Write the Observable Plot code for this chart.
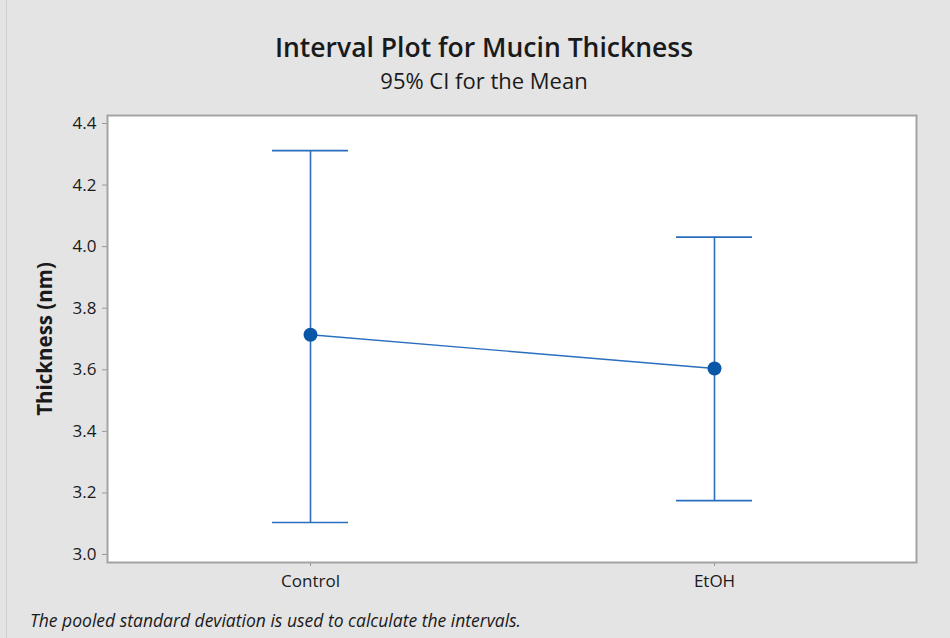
<!DOCTYPE html>
<html>
<head>
<meta charset="utf-8">
<script src="https://cdn.jsdelivr.net/npm/d3@7"></script>
<script src="https://cdn.jsdelivr.net/npm/@observablehq/plot@0.6"></script>
<style>
  html, body { margin: 0; padding: 0; background: #e4e4e4; }
  #wrap { position: relative; width: 950px; height: 638px; background: #e4e4e4; overflow: hidden; font-family: "Open Sans", "Noto Sans", sans-serif; color: #1a1a1a; }
  #wrap .edge { position: absolute; left: 6px; top: 0; width: 1px; height: 638px; background: #cfcfcf; }
  #title { position: absolute; top: 29px; left: 0; width: 968px; text-align: center; font-size: 26.5px; font-weight: 600; line-height: 36px; }
  #subtitle { position: absolute; top: 66px; left: 0; width: 968px; text-align: center; font-size: 22px; line-height: 28px; }
  #caption { position: absolute; top: 607px; left: 30px; font-size: 17.5px; font-style: italic; line-height: 26px; }
  #chart { position: absolute; left: 0; top: 0; }
</style>
</head>
<body>
<div id="wrap">
  <div class="edge"></div>
  <div id="chart"></div>
  <div id="title">Interval Plot for Mucin Thickness</div>
  <div id="subtitle">95% CI for the Mean</div>
  <div id="caption">The pooled standard deviation is used to calculate the intervals.</div>
</div>
<script>
const groups = ["Control", "EtOH"];
const means = [3.714, 3.604];
const lower = [3.104, 3.175];
const upper = [4.312, 4.031];
const yTicks = [3.0, 3.2, 3.4, 3.6, 3.8, 4.0, 4.2, 4.4];

const data = groups.map((g, i) => ({group: g, mean: means[i], lo: lower[i], hi: upper[i]}));
const blue = "#2a6ebd";
const dotBlue = "#0a57a8";

const chart = Plot.plot({
  width: 950,
  height: 638,
  marginTop: 115,
  marginLeft: 107,
  marginRight: 34,
  marginBottom: 76,
  style: {background: "transparent", fontFamily: "'Open Sans', 'Noto Sans', sans-serif", fontSize: "17px", color: "#1a1a1a"},
  x: {type: "band", domain: groups, paddingInner: 0.812, paddingOuter: 0.405, label: null},
  y: {domain: [2.974, 4.426], label: null},
  marks: [
    Plot.frame({fill: "white", stroke: "none"}),
    Plot.axisY({ticks: yTicks, tickFormat: d3.format(".1f"), tickSize: 5, tickPadding: 6, stroke: "#999", fontSize: 17, fill: "#1a1a1a"}),
    Plot.axisX({tickSize: 4, tickPadding: 8, stroke: "#999", fontSize: 17, fill: "#1a1a1a"}),
    Plot.ruleX(data, {x: "group", y1: "lo", y2: "hi", stroke: blue, strokeWidth: 1.6}),
    Plot.tickY(data, {x: "group", y: "hi", stroke: blue, strokeWidth: 1.6}),
    Plot.tickY(data, {x: "group", y: "lo", stroke: blue, strokeWidth: 1.6}),
    Plot.line(data, {x: "group", y: "mean", stroke: blue, strokeWidth: 1.4}),
    Plot.dot(data, {x: "group", y: "mean", r: 7, fill: dotBlue, stroke: "none"}),
    Plot.text(["Thickness (nm)"], {frameAnchor: "left", textAnchor: "middle", rotate: -90, dx: -62, fontSize: 20.5, fontWeight: "bold", fill: "#1a1a1a"}),
    Plot.frame({stroke: "#a3a3a3", strokeWidth: 2})
  ]
});
document.getElementById("chart").appendChild(chart);
</script>
</body>
</html>
